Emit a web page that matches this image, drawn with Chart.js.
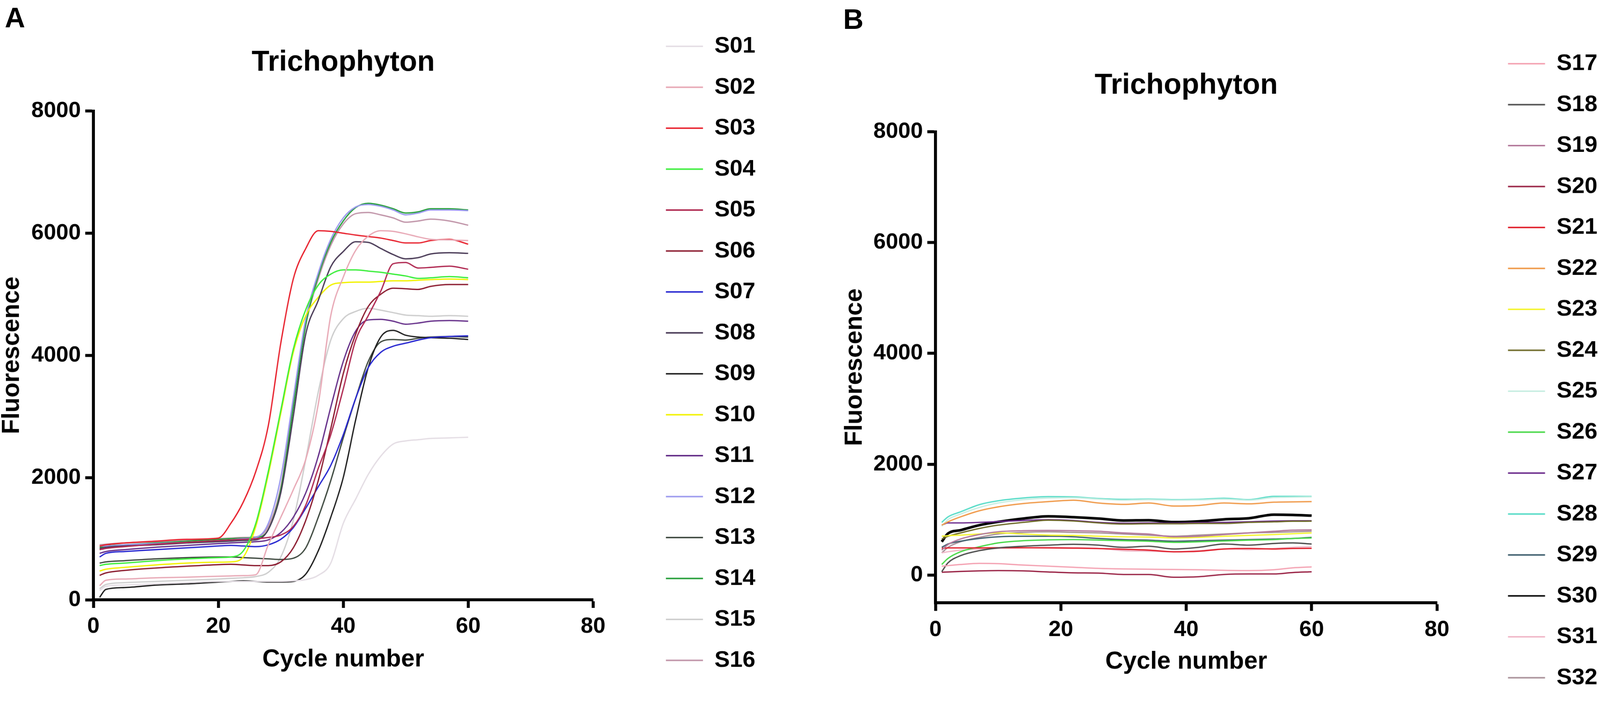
<!DOCTYPE html>
<html>
<head>
<meta charset="utf-8">
<script src="https://cdn.jsdelivr.net/npm/chart.js@4.4.1/dist/chart.umd.min.js"></script>
<style>
    html, body { margin: 0; padding: 0; background: #fff; overflow: hidden; }
    #page { position: absolute; left: 0; top: 0; width: 4317px; height: 1909px; transform-origin: 0 0; }
    canvas { position: absolute; top: 0; }
    #chartA { left: 0; }
    #chartB { left: 2274px; }
    .tag { position: absolute; font: bold 76px 'Liberation Sans', Arial, sans-serif; line-height: 1; color: #000; }
</style>
</head>
<body>
<div id="page">
    <div class="tag" style="left: 13px; top: 10px;">A</div>
    <div class="tag" style="left: 2275px; top: 14px;">B</div>
    <canvas id="chartA" width="2048" height="1862"></canvas>
    <canvas id="chartB" width="2046" height="1909"></canvas>
</div>
<script>
const FONT = "'Liberation Sans', Arial, sans-serif";

// panel A
const cyclesA = [1, 2, 5, 10, 15, 20, 22, 24, 26, 28, 30, 32, 34, 36, 38, 40, 42, 44, 46, 48, 50, 52, 54, 57, 60];
const labelsA = ['S01', 'S02', 'S03', 'S04', 'S05', 'S06', 'S07', 'S08', 'S09', 'S10', 'S11', 'S12', 'S13', 'S14', 'S15', 'S16'];
const S01 = [150, 220, 240, 260, 280, 300, 300, 300, 300, 300, 300, 310, 330, 400, 600, 1250, 1650, 2050, 2350, 2550, 2600, 2620, 2640, 2650, 2660];
const S02 = [230, 320, 340, 360, 370, 385, 390, 395, 410, 900, 1350, 1800, 2300, 3200, 4650, 5280, 5720, 5950, 6040, 6030, 5990, 5940, 5900, 5890, 5880];
const S03 = [880, 900, 930, 960, 990, 1010, 1250, 1600, 2100, 2850, 4200, 5250, 5750, 6040, 6030, 6000, 5970, 5945, 5920, 5880, 5840, 5840, 5880, 5900, 5820];
const S04 = [560, 580, 600, 640, 670, 690, 700, 800, 1250, 2100, 3100, 4100, 4750, 5150, 5330, 5400, 5400, 5380, 5360, 5330, 5300, 5260, 5270, 5290, 5270];
const S05 = [820, 840, 870, 910, 940, 970, 980, 990, 1000, 1020, 1060, 1200, 1550, 2150, 2700, 3450, 4250, 4650, 5050, 5500, 5520, 5430, 5440, 5460, 5410];
const S06 = [400, 440, 480, 520, 550, 575, 580, 570, 560, 560, 620, 850, 1300, 1950, 2800, 3700, 4350, 4800, 5000, 5100, 5090, 5080, 5130, 5160, 5160];
const S07 = [700, 760, 790, 820, 850, 880, 890, 880, 870, 900, 990, 1180, 1500, 1850, 2200, 2700, 3300, 3800, 4050, 4150, 4200, 4250, 4290, 4310, 4320];
const S08 = [840, 860, 880, 900, 930, 950, 960, 970, 980, 1150, 1750, 3000, 4350, 4900, 5450, 5700, 5860, 5850, 5750, 5650, 5580, 5600, 5660, 5680, 5670];
const S09 = [40, 170, 200, 240, 260, 290, 300, 310, 300, 290, 290, 300, 420, 800, 1350, 2000, 2950, 3800, 4300, 4410, 4330, 4300, 4290, 4280, 4260];
const S10 = [470, 500, 530, 570, 600, 615, 620, 700, 1200, 2050, 3050, 4050, 4650, 4950, 5150, 5190, 5200, 5200, 5210, 5220, 5220, 5230, 5240, 5250, 5240];
const S11 = [760, 790, 820, 860, 890, 920, 930, 940, 950, 980, 1100, 1350, 1750, 2350, 3150, 3900, 4400, 4580, 4590, 4560, 4510, 4530, 4560, 4570, 4560];
const S12 = [880, 880, 900, 920, 940, 960, 980, 1000, 1020, 1250, 2000, 3300, 4600, 5350, 5900, 6250, 6430, 6470, 6440, 6380, 6300, 6330, 6380, 6380, 6370];
const S13 = [600, 620, 640, 670, 690, 700, 700, 690, 680, 670, 660, 680, 850, 1350, 1950, 2650, 3300, 3900, 4220, 4260, 4250, 4280, 4300, 4310, 4300];
const S14 = [860, 880, 900, 930, 960, 990, 1000, 1010, 1020, 1150, 1800, 3150, 4500, 5300, 5850, 6200, 6420, 6490, 6460, 6400, 6330, 6350, 6400, 6400, 6380];
const S15 = [180, 250, 280, 300, 320, 340, 350, 360, 380, 450, 700, 1300, 2300, 3400, 4250, 4600, 4720, 4770, 4740, 4700, 4660, 4650, 4640, 4650, 4640];
const S16 = [900, 910, 930, 950, 980, 1000, 1010, 1020, 1030, 1200, 1850, 3200, 4500, 5250, 5800, 6150, 6320, 6340, 6300, 6250, 6180, 6200, 6230, 6200, 6130];
const seriesA = [S01, S02, S03, S04, S05, S06, S07, S08, S09, S10, S11, S12, S13, S14, S15, S16];
const colorsA = ['#e4dde4', '#e8a9b6', '#e8222e', '#3aee3a', '#b02a52', '#8c1c30', '#2626d0', '#4a3b57',
                 '#1e1e1e', '#f2f200', '#66308a', '#9a98ee', '#3f4a40', '#28a03c', '#cdcdcd', '#c094a8'];

// panel B
const cyclesB = [1, 2, 4, 7, 10, 14, 18, 22, 26, 30, 34, 38, 42, 46, 50, 54, 57, 60];
const labelsB = ['S17', 'S18', 'S19', 'S20', 'S21', 'S22', 'S23', 'S24', 'S25', 'S26', 'S27', 'S28', 'S29', 'S30', 'S31', 'S32'];
const S17 = [160, 170, 190, 210, 205, 180, 160, 140, 120, 110, 105, 100, 95, 85, 80, 95, 130, 147];
const S18 = [60, 220, 350, 440, 490, 520, 540, 555, 540, 500, 520, 470, 500, 560, 540, 570, 580, 560];
const S19 = [450, 550, 650, 730, 780, 800, 805, 800, 790, 760, 740, 690, 700, 730, 760, 790, 810, 815];
const S20 = [50, 55, 65, 75, 80, 75, 55, 40, 35, 10, 10, -40, -30, 10, 20, 20, 45, 58];
const S21 = [480, 490, 490, 490, 492, 492, 490, 485, 478, 465, 450, 420, 430, 470, 480, 470, 480, 481];
const S22 = [900, 960, 1050, 1160, 1230, 1290, 1325, 1350, 1300, 1275, 1300, 1245, 1255, 1300, 1285, 1315, 1320, 1325];
const S23 = [700, 710, 720, 740, 760, 740, 720, 715, 700, 690, 685, 670, 680, 700, 715, 730, 745, 760];
const S24 = [650, 700, 760, 840, 900, 950, 990, 975, 940, 920, 925, 925, 930, 930, 950, 960, 970, 972];
const S25 = [880, 1000, 1100, 1220, 1300, 1360, 1390, 1395, 1370, 1350, 1360, 1350, 1355, 1370, 1350, 1400, 1405, 1410];
const S26 = [190, 300, 420, 510, 580, 620, 635, 640, 630, 620, 610, 590, 600, 615, 630, 640, 660, 670];
const S27 = [900, 940, 940, 950, 965, 985, 1000, 985, 950, 935, 940, 935, 945, 950, 960, 975, 980, 980];
const S28 = [950, 1050, 1140, 1270, 1340, 1390, 1415, 1410, 1380, 1365, 1370, 1360, 1365, 1385, 1360, 1420, 1420, 1418];
const S29 = [500, 560, 610, 660, 690, 700, 700, 690, 660, 640, 630, 610, 620, 630, 640, 650, 660, 680];
const S30 = [600, 750, 810, 900, 960, 1020, 1060, 1045, 1020, 985, 990, 955, 970, 1005, 1025, 1090, 1085, 1072];
const S31 = [400, 420, 450, 470, 480, 490, 500, 495, 480, 440, 430, 420, 440, 470, 460, 480, 500, 510];
const S32 = [400, 500, 600, 680, 740, 770, 780, 770, 760, 740, 720, 700, 720, 740, 760, 770, 780, 790];
const seriesB = [S17, S18, S19, S20, S21, S22, S23, S24, S25, S26, S27, S28, S29, S30, S31, S32];
const colorsB = ['#f4a3b3', '#4d4d4d', '#b47a9c', '#9a2446', '#e0202c', '#f09a4a', '#f4f430', '#6e6a28',
                 '#c8eee2', '#48d848', '#6c2c8c', '#58dcc8', '#3f5f6e', '#000000', '#f0b8c8', '#a89098'];

const xTicks = [0, 20, 40, 60, 80];
const yTicks = [0, 2000, 4000, 6000, 8000];

// fit the 4317x1862 layout into whatever viewport we actually get
const fit = Math.min(window.innerWidth / 4317, window.innerHeight / 1862);
if (Math.abs(fit - 1) > 0.002) {
    document.getElementById('page').style.transform = `scale(${fit})`;
}

function createChart(canvas, cycles, series, labels, colors, layout) {
    const datasets = series.map((values, i) => ({
        label: labels[i],
        data: values.map((v, j) => ({ x: cycles[j], y: v })),
        borderColor: colors[i],
        backgroundColor: colors[i],
        borderWidth: colors[i] === '#000000' ? 7 : 3.5,
        pointRadius: 0,
        cubicInterpolationMode: 'monotone',
        fill: false,
    }));
    return new Chart(canvas, {
        type: 'line',
        data: { datasets },
        options: setupChartOptions(layout),
    });
}

function setupChartOptions(layout) {
    const tickFont = { family: FONT, size: 60, weight: 'bold' };
    const axisTitleFont = { family: FONT, size: 66, weight: 'bold', lineHeight: 1 };
    return {
        responsive: false,
        animation: false,
        events: [],
        layout: { padding: 0 },
        plugins: {
            title: {
                display: true,
                text: 'Trichophyton',
                fullSize: false,
                color: '#000',
                font: { family: FONT, size: 78, weight: 'bold', lineHeight: 1.2 },
                padding: { top: layout.titleTop, bottom: layout.titleBottom },
            },
            legend: {
                position: 'right',
                align: 'end',
                labels: {
                    color: '#000',
                    boxWidth: 100,
                    boxHeight: 4,
                    padding: 48.5,
                    font: { family: FONT, size: 62, weight: 'bold' },
                    generateLabels(chart) {
                        return Chart.defaults.plugins.legend.labels.generateLabels(chart)
                            .map(item => ({ ...item, fillStyle: item.strokeStyle, lineWidth: 0 }));
                    },
                },
            },
            tooltip: { enabled: false },
        },
        scales: {
            x: {
                type: 'linear',
                min: 0,
                max: 80,
                afterFit(scale) { scale.height = layout.xHeight; },
                afterBuildTicks(scale) { scale.ticks = xTicks.map(v => ({ value: v })); },
                border: { display: true, width: 8, color: '#000' },
                grid: { drawOnChartArea: false, tickLength: 22, tickWidth: 8, tickColor: '#000' },
                ticks: { padding: layout.xTickPad, color: '#000', font: tickFont, maxRotation: 0, callback: v => String(v) },
                title: {
                    display: true,
                    text: 'Cycle number',
                    color: '#000',
                    font: axisTitleFont,
                    padding: { top: 0, bottom: layout.xTitleBottom },
                },
            },
            y: {
                type: 'linear',
                min: layout.yMin,
                max: 8000,
                afterFit(scale) { scale.width = layout.yWidth; },
                afterBuildTicks(scale) { scale.ticks = yTicks.map(v => ({ value: v })); },
                border: { display: true, width: 8, color: '#000' },
                grid: { drawOnChartArea: false, tickLength: 22, tickWidth: 8, tickColor: '#000' },
                ticks: { padding: 12, color: '#000', font: tickFont, callback: v => String(v) },
                title: {
                    display: true,
                    text: 'Fluorescence',
                    color: '#000',
                    font: axisTitleFont,
                    padding: { top: 0, bottom: 0 },
                },
            },
            gap: {
                type: 'linear',
                position: 'right',
                display: true,
                afterFit(scale) { scale.width = layout.gapWidth; },
                grid: { display: false, drawTicks: false },
                border: { display: false },
                ticks: { display: false },
            },
        },
    };
}

createChart(document.getElementById('chartA'), cyclesA, seriesA, labelsA, colorsA, {
    titleTop: 123, titleBottom: 83, xHeight: 243, xTickPad: 14, xTitleBottom: 48,
    yMin: 0, yWidth: 252, gapWidth: 148,
});

createChart(document.getElementById('chartB'), cyclesB, seriesB, labelsB, colorsB, {
    titleTop: 185, titleBottom: 77, xHeight: 282, xTickPad: 15, xTitleBottom: 89,
    yMin: -500, yWidth: 250, gapWidth: 143,
});
</script>
</body>
</html>
